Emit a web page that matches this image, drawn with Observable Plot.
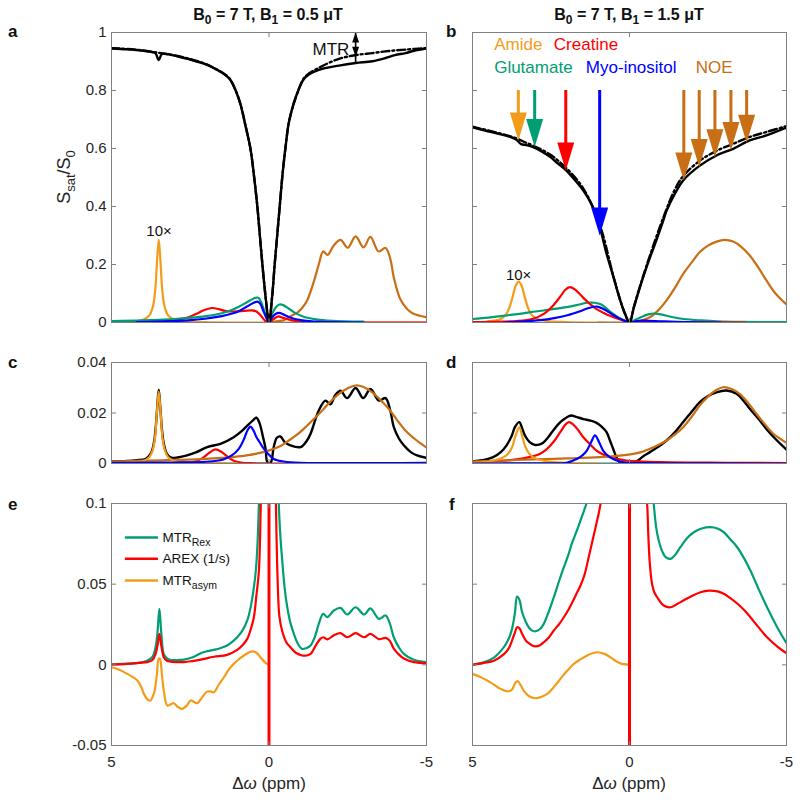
<!DOCTYPE html>
<html><head><meta charset="utf-8">
<script src="https://cdn.jsdelivr.net/npm/d3@7"></script>
<script src="https://cdn.jsdelivr.net/npm/@observablehq/plot@0.6"></script>
<style>
body{margin:0;background:#fff;}
#root{position:relative;width:800px;height:800px;overflow:hidden;background:#fff;}
#root svg{position:absolute;background:transparent;overflow:visible;max-width:none;}
</style></head><body><div id="root"></div>
<script>
// ---------------- DATA (ppm, value) ----------------
const aZ = [[5,0.945],[4.5,0.942],[4,0.937],[3.7,0.932],[3.6,0.928],[3.5,0.905],[3.4,0.926],[3.2,0.925],[3,0.92],[2.5,0.907],[2,0.89],[1.75,0.877],[1.5,0.862],[1.25,0.84],[1.06,0.8],[0.9,0.75],[0.75,0.68],[0.59,0.6],[0.47,0.5],[0.37,0.4],[0.29,0.3],[0.21,0.2],[0.1,0.08],[0,0],[-0.1,0.09],[-0.18,0.2],[-0.26,0.3],[-0.34,0.4],[-0.42,0.5],[-0.52,0.6],[-0.65,0.7],[-0.93,0.8],[-1.15,0.845],[-1.58,0.871],[-2.22,0.886],[-2.75,0.895],[-3.28,0.901],[-3.7,0.912],[-4.0,0.922],[-4.33,0.929],[-4.6,0.937],[-5,0.945]];
const aZref = [[5,0.946],[4.5,0.943],[4,0.938],[3.5,0.93],[3,0.921],[2.5,0.908],[2,0.891],[1.75,0.878],[1.5,0.863],[1.25,0.841],[1.06,0.801],[0.9,0.751],[0.75,0.681],[0.59,0.6],[0.47,0.5],[0.37,0.4],[0.29,0.3],[0.21,0.2],[0.1,0.08],[0,0],[-0.1,0.09],[-0.18,0.2],[-0.26,0.3],[-0.34,0.4],[-0.42,0.5],[-0.52,0.6],[-0.65,0.7],[-0.93,0.8],[-1.15,0.848],[-1.58,0.878],[-2.22,0.909],[-2.75,0.922],[-3.28,0.929],[-3.8,0.936],[-4.33,0.941],[-5,0.946]];
const aAmide = [[5,0.001],[4.5,0.0023],[4.25,0.004],[4,0.009],[3.8,0.024],[3.7,0.049],[3.65,0.075],[3.6,0.128],[3.55,0.219],[3.5,0.286],[3.45,0.219],[3.4,0.128],[3.35,0.075],[3.3,0.049],[3.2,0.024],[3,0.009],[2.75,0.004],[2.5,0.0023],[2,0.001],[1,0],[-5,0]];
const aCr = [[5,0],[4,0.002],[3.5,0.004],[3.08,0.007],[2.8,0.012],[2.56,0.018],[2.3,0.03],[2.05,0.043],[1.8,0.05],[1.6,0.046],[1.4,0.04],[1.12,0.038],[0.8,0.04],[0.55,0.042],[0.4,0.038],[0.27,0.025],[0.12,0.006],[0,0],[-0.12,0.01],[-0.3,0.021],[-0.45,0.016],[-0.7,0.008],[-1,0.004],[-1.5,0.001],[-2,0],[-5,0]];
const aGlu = [[5,0.005],[4,0.007],[3,0.012],[2.5,0.016],[2,0.022],[1.5,0.032],[1.2,0.042],[0.96,0.054],[0.7,0.07],[0.5,0.082],[0.4,0.086],[0.33,0.085],[0.25,0.07],[0.15,0.04],[0.05,0.01],[0,0],[-0.08,0.025],[-0.2,0.05],[-0.33,0.062],[-0.45,0.06],[-0.6,0.05],[-0.8,0.035],[-1.1,0.02],[-1.5,0.011],[-2,0.006],[-3,0.003]];
const aMyo = [[4.2,0.001],[3.5,0.003],[3,0.005],[2.56,0.0075],[2.03,0.013],[1.5,0.022],[1.2,0.03],[0.96,0.039],[0.7,0.055],[0.5,0.067],[0.37,0.072],[0.28,0.065],[0.18,0.04],[0.08,0.015],[0,0],[-0.1,0.018],[-0.22,0.03],[-0.32,0.033],[-0.45,0.028],[-0.65,0.018],[-1,0.008],[-1.5,0.003],[-2,0.001],[-3,0]];
const aNoe = [[0,0],[-0.3,0.005],[-0.47,0.008],[-0.74,0.025],[-0.89,0.033],[-1.05,0.05],[-1.21,0.076],[-1.42,0.14],[-1.58,0.2],[-1.72,0.245],[-1.86,0.233],[-2.05,0.265],[-2.27,0.285],[-2.5,0.258],[-2.75,0.297],[-3.0,0.259],[-3.22,0.295],[-3.48,0.245],[-3.7,0.257],[-3.85,0.22],[-3.96,0.156],[-4.17,0.08],[-4.4,0.045],[-4.59,0.03],[-5,0.018]];
const bZ = [[5,0.673],[4.6,0.662],[4.13,0.65],[3.8,0.64],[3.6,0.63],[3.45,0.615],[3.3,0.612],[3.07,0.605],[2.8,0.59],[2.54,0.572],[2.3,0.55],[2.01,0.524],[1.75,0.492],[1.47,0.455],[1.2,0.405],[0.95,0.33],[0.73,0.237],[0.52,0.16],[0.3,0.078],[0.15,0.032],[0,0],[-0.14,0.052],[-0.3,0.11],[-0.54,0.19],[-0.86,0.285],[-1.07,0.35],[-1.18,0.385],[-1.45,0.445],[-1.71,0.49],[-2.24,0.541],[-2.77,0.576],[-3.3,0.599],[-3.83,0.628],[-4.36,0.645],[-5,0.672]];
const bZref = [[5,0.675],[4.13,0.652],[3.6,0.635],[3.3,0.62],[3.07,0.61],[2.54,0.58],[2.01,0.532],[1.47,0.462],[0.95,0.338],[0.52,0.162],[0.3,0.079],[0.15,0.032],[0,0],[-0.14,0.054],[-0.3,0.113],[-0.54,0.195],[-1.07,0.36],[-1.45,0.46],[-1.71,0.505],[-2.24,0.558],[-2.77,0.592],[-3.3,0.616],[-3.83,0.64],[-4.36,0.657],[-5,0.677]];
const bAmide = [[4.5,0.004],[4.1,0.012],[3.93,0.028],[3.83,0.05],[3.73,0.085],[3.63,0.125],[3.53,0.141],[3.43,0.125],[3.33,0.085],[3.23,0.05],[3.13,0.028],[2.93,0.012],[2.53,0.004],[2,0.0015],[1,0],[-5,0]];
const bCr = [[5,0.001],[4.5,0.002],[4.02,0.003],[3.6,0.005],[3.28,0.008],[3.05,0.014],[2.86,0.022],[2.65,0.036],[2.43,0.059],[2.2,0.09],[2.05,0.112],[1.9,0.122],[1.75,0.115],[1.6,0.1],[1.47,0.085],[1.25,0.063],[1.05,0.046],[0.82,0.033],[0.62,0.023],[0.35,0.012],[0.1,0.004],[0,0],[-0.3,0.005],[-0.8,0.003],[-1.5,0.001],[-3.7,0]];
const bGlu = [[5,0.012],[4.5,0.017],[4.1,0.022],[3.5,0.03],[3.05,0.037],[2.5,0.045],[2,0.053],[1.6,0.062],[1.35,0.068],[1.1,0.068],[0.9,0.062],[0.7,0.045],[0.5,0.028],[0.3,0.014],[0.1,0.004],[0,0],[-0.2,0.01],[-0.4,0.02],[-0.6,0.028],[-0.77,0.031],[-1,0.028],[-1.35,0.019],[-1.73,0.012],[-2.3,0.007],[-2.8,0.004],[-3.5,0.002],[-5,0.001]];
const bMyo = [[4,0],[3.5,0.003],[2.83,0.008],[2.4,0.015],[1.98,0.025],[1.6,0.038],[1.3,0.05],[1.03,0.055],[0.8,0.045],[0.5,0.025],[0.25,0.01],[0,0],[-0.3,0.006],[-0.6,0.006],[-1,0.004],[-1.5,0.002],[-2.9,0]];
const bNoe = [[1,0],[0,0],[-0.3,0.004],[-0.65,0.018],[-0.9,0.04],[-1.18,0.076],[-1.45,0.12],[-1.71,0.168],[-2,0.21],[-2.24,0.243],[-2.5,0.265],[-2.77,0.279],[-3.04,0.285],[-3.3,0.279],[-3.55,0.262],[-3.83,0.231],[-4.1,0.19],[-4.36,0.145],[-4.65,0.1],[-5,0.062]];
const bArrowPpm = [3.54, 3.02, 2.03, 0.95, -1.73, -2.22, -2.72, -3.23, -3.73];
const bArrowTip = [0.628, 0.605, 0.524, 0.30, 0.49, 0.536, 0.57, 0.595, 0.62];
const bArrowKind = ["amide","glu","cr","myo","noe","noe","noe","noe","noe"];
const bArrowTop = 0.80;
const bLegendText = ["Amide","Creatine","Glutamate","Myo-inositol","NOE"];
const bLegendKind = ["amide","cr","glu","myo","noe"];
const bLegendX = [4.31, 2.41, 4.31, 1.39, -2.11];
const bLegendY = [0.941, 0.941, 0.861, 0.861, 0.861];
const aMtrPpm = -2.75, aMtrTop = 1.0, aMtrMid = 0.916, aMtrBottom = 0.895;
const tenXLabel = "10×";
const aTenX = [3.49, 0.30], bTenX = [3.53, 0.147];
const cBlack = [[5,0.0008],[4.5,0.001],[4.2,0.0013],[3.92,0.0018],[3.75,0.004],[3.65,0.0085],[3.6,0.0137],[3.55,0.022],[3.5,0.0292],[3.45,0.022],[3.4,0.0137],[3.35,0.0085],[3.25,0.004],[3.13,0.0024],[2.9,0.0024],[2.6,0.0032],[2.3,0.0045],[1.96,0.0065],[1.54,0.0078],[1.12,0.0104],[0.85,0.013],[0.69,0.015],[0.5,0.0172],[0.4,0.0181],[0.3,0.016],[0.2,0.011],[0.11,0.006],[0.05,0.0005],[-0.05,0.0003],[-0.15,0.0065],[-0.25,0.0102],[-0.36,0.0107],[-0.5,0.0085],[-0.68,0.0072],[-1,0.0065],[-1.2,0.009],[-1.32,0.0118],[-1.58,0.021],[-1.79,0.0249],[-1.95,0.0234],[-2.1,0.027],[-2.27,0.0288],[-2.48,0.0259],[-2.75,0.0299],[-2.99,0.0259],[-3.22,0.0295],[-3.49,0.0249],[-3.7,0.0259],[-3.85,0.021],[-3.96,0.0145],[-4.12,0.01],[-4.28,0.0072],[-4.5,0.0045],[-4.7,0.0032],[-5,0.0022]];
const cAmide = [[5,0.0003],[4.5,0.0005],[4,0.001],[3.8,0.0025],[3.7,0.005],[3.62,0.01],[3.56,0.02],[3.5,0.0285],[3.44,0.02],[3.38,0.01],[3.3,0.005],[3.2,0.0025],[3,0.001],[2.5,0.0005],[2,0.0003],[1,0]];
const cCr = [[3,0],[2.5,0.0004],[2.3,0.0009],[2.1,0.0022],[1.9,0.0042],[1.7,0.0056],[1.5,0.0045],[1.3,0.0025],[1.1,0.001],[0.9,0.0004],[0.5,0.0001],[0,0],[-1,0]];
const cGlu = [[3,0],[0,0]];
const cMyo = [[5,0.0003],[3,0.0004],[2,0.0007],[1.6,0.0012],[1.45,0.0016],[1.17,0.0033],[0.96,0.0058],[0.8,0.0095],[0.69,0.013],[0.59,0.0146],[0.49,0.013],[0.4,0.0105],[0.3,0.0085],[0.2,0.0065],[0.04,0.004],[-0.15,0.0018],[-0.47,0.0008],[-1,0.0003],[-5,0.0003]];
const cNoe = [[5,0.0008],[4,0.0011],[3,0.0014],[2,0.0018],[1.5,0.0022],[0.96,0.0028],[0.43,0.0038],[0,0.0052],[-0.35,0.0068],[-0.63,0.0091],[-0.9,0.0115],[-1.16,0.0144],[-1.43,0.0177],[-1.69,0.021],[-1.95,0.0245],[-2.22,0.0276],[-2.5,0.0298],[-2.75,0.0309],[-3.0,0.0303],[-3.28,0.0282],[-3.55,0.025],[-3.8,0.0217],[-4.05,0.0175],[-4.33,0.0131],[-4.65,0.0095],[-5,0.0063]];
const dBlack = [[5,0.0008],[4.6,0.0015],[4.34,0.0025],[4.1,0.0045],[3.92,0.0071],[3.75,0.011],[3.65,0.0144],[3.51,0.0164],[3.42,0.014],[3.33,0.0111],[3.18,0.0085],[3.02,0.0074],[2.88,0.0075],[2.75,0.0082],[2.6,0.0102],[2.43,0.0131],[2.25,0.0158],[2.11,0.0173],[1.95,0.0186],[1.85,0.019],[1.7,0.0185],[1.47,0.0176],[1.25,0.017],[1.05,0.0161],[0.88,0.0145],[0.73,0.0124],[0.62,0.009],[0.52,0.0058],[0.42,0.0025],[0.33,0.0007],[0.2,0],[-0.1,0],[-0.17,0.0004],[-0.3,0.0015],[-0.45,0.003],[-0.65,0.0045],[-0.9,0.0065],[-1.18,0.0091],[-1.45,0.0125],[-1.71,0.0164],[-1.98,0.0205],[-2.24,0.0243],[-2.5,0.0267],[-2.77,0.0282],[-3.09,0.0289],[-3.41,0.0276],[-3.62,0.025],[-3.83,0.0217],[-4.1,0.0178],[-4.36,0.0137],[-4.65,0.0097],[-5,0.0055]];
const dAmide = [[5,0.0003],[4.6,0.0006],[4.34,0.0012],[4.1,0.002],[3.92,0.0032],[3.8,0.005],[3.72,0.0071],[3.63,0.011],[3.51,0.0144],[3.42,0.011],[3.33,0.0071],[3.2,0.004],[3.07,0.0025],[2.8,0.0013],[2.5,0.0007],[2,0.0003],[1,0]];
const dCr = [[5,0.0006],[4.5,0.0008],[4,0.0011],[3.6,0.0016],[3.2,0.0025],[2.86,0.0038],[2.65,0.0055],[2.43,0.0084],[2.2,0.0125],[2.05,0.0153],[1.93,0.0164],[1.8,0.0155],[1.65,0.0135],[1.47,0.0104],[1.25,0.0075],[1.05,0.0051],[0.82,0.0035],[0.62,0.0025],[0.3,0.0016],[0.1,0.0012],[-1,0.0006],[-3,0.0003],[-5,0.0002]];
const dGlu = [[4,0],[-1,0]];
const dMyo = [[5,0],[3,0.0001],[2,0.0003],[1.68,0.0018],[1.5,0.0032],[1.36,0.0051],[1.22,0.0085],[1.1,0.0111],[0.97,0.0085],[0.84,0.0051],[0.68,0.003],[0.52,0.0018],[0.3,0.0008],[0,0.0003],[-1,0.0001],[-5,0]];
const dNoe = [[5,0.0008],[4,0.0012],[3.07,0.0016],[2,0.002],[0.95,0.0025],[0.4,0.003],[-0.12,0.0038],[-0.4,0.0046],[-0.65,0.0058],[-0.9,0.0072],[-1.18,0.0091],[-1.45,0.0115],[-1.71,0.0144],[-1.98,0.0185],[-2.24,0.023],[-2.5,0.0265],[-2.75,0.029],[-2.98,0.0302],[-3.25,0.0295],[-3.51,0.0276],[-3.78,0.024],[-4.04,0.0197],[-4.3,0.0157],[-4.58,0.0118],[-5,0.0082]];
const eRexL = [[5,0.0002],[4.6,0.0006],[4.29,0.0009],[4.05,0.0015],[3.87,0.0025],[3.7,0.005],[3.6,0.011],[3.54,0.02],[3.48,0.0347],[3.42,0.02],[3.34,0.0066],[3.24,0.004],[3.13,0.003],[2.9,0.003],[2.7,0.0032],[2.4,0.0048],[2.17,0.0072],[1.95,0.0085],[1.75,0.0093],[1.55,0.0103],[1.33,0.012],[1.15,0.0145],[1.01,0.0171],[0.85,0.021],[0.69,0.0275],[0.58,0.036],[0.48,0.048],[0.42,0.058],[0.37,0.073],[0.32,0.1],[0.28,0.13]];
const eRexR = [[-0.28,0.13],[-0.31,0.1],[-0.36,0.08],[-0.42,0.0646],[-0.5,0.047],[-0.58,0.0357],[-0.68,0.026],[-0.79,0.0192],[-0.92,0.013],[-1.05,0.0099],[-1.18,0.0103],[-1.32,0.012],[-1.45,0.017],[-1.58,0.0254],[-1.72,0.0316],[-1.85,0.0296],[-2.06,0.0337],[-2.27,0.0353],[-2.48,0.0312],[-2.75,0.0357],[-3.02,0.0312],[-3.22,0.035],[-3.49,0.0285],[-3.7,0.0306],[-3.83,0.026],[-3.96,0.0171],[-4.12,0.011],[-4.28,0.0068],[-4.6,0.0031],[-5,0.0017]];
const eArexL = [[5,0.0002],[4.5,0.0006],[4.1,0.0012],[3.87,0.0017],[3.7,0.003],[3.6,0.0068],[3.54,0.012],[3.48,0.0192],[3.42,0.012],[3.34,0.0047],[3.24,0.0025],[3.13,0.002],[2.7,0.0017],[2.4,0.0025],[2.17,0.0032],[1.75,0.005],[1.33,0.0062],[1.01,0.0093],[0.85,0.012],[0.69,0.0161],[0.55,0.024],[0.48,0.0295],[0.4,0.043],[0.32,0.0585],[0.26,0.1],[0.22,0.13]];
const eArexR = [[-0.2,0.13],[-0.22,0.1],[-0.27,0.055],[-0.33,0.03],[-0.42,0.0208],[-0.55,0.014],[-0.68,0.0109],[-0.85,0.0075],[-1.05,0.0058],[-1.2,0.0058],[-1.32,0.0068],[-1.5,0.0125],[-1.63,0.0161],[-1.72,0.0171],[-1.85,0.0158],[-2.06,0.0183],[-2.27,0.0196],[-2.48,0.0171],[-2.75,0.0196],[-3.02,0.0171],[-3.22,0.0192],[-3.49,0.0159],[-3.7,0.0167],[-3.83,0.015],[-3.96,0.0101],[-4.12,0.0065],[-4.28,0.0039],[-4.6,0.0017],[-5,0.0011]];
const eAsym = [[5,-0.0015],[4.75,-0.003],[4.5,-0.0056],[4.18,-0.0097],[4.05,-0.014],[3.97,-0.018],[3.85,-0.0215],[3.76,-0.0221],[3.68,-0.019],[3.63,-0.016],[3.56,-0.006],[3.5,0.004],[3.46,0.0035],[3.4,-0.006],[3.34,-0.016],[3.23,-0.0252],[3.12,-0.0245],[3.02,-0.0238],[2.9,-0.026],[2.76,-0.0273],[2.6,-0.025],[2.49,-0.0221],[2.38,-0.023],[2.28,-0.0238],[2.12,-0.02],[1.97,-0.0166],[1.85,-0.0165],[1.75,-0.017],[1.6,-0.0125],[1.43,-0.0077],[1.28,-0.003],[1.12,0.0006],[0.95,0.0035],[0.8,0.0058],[0.65,0.0075],[0.53,0.0084],[0.4,0.0075],[0.27,0.0047],[0.15,0.002],[0.06,0.0006],[0,0]];
const fRexL = [[5,0],[4.64,0.0015],[4.32,0.0045],[4.0,0.011],[3.85,0.016],[3.74,0.0223],[3.65,0.032],[3.58,0.0423],[3.5,0.04],[3.42,0.0326],[3.3,0.0265],[3.21,0.0233],[3.1,0.0212],[2.99,0.0208],[2.85,0.0222],[2.73,0.0254],[2.57,0.033],[2.41,0.0419],[2.25,0.0515],[2.09,0.0605],[1.95,0.068],[1.82,0.076],[1.69,0.0825],[1.56,0.0895],[1.45,0.0955],[1.37,0.1],[1.3,0.105]];
const fRexR = [[-0.74,0.105],[-0.77,0.1],[-0.85,0.085],[-0.93,0.0771],[-1.04,0.0705],[-1.15,0.0667],[-1.31,0.0657],[-1.45,0.068],[-1.62,0.0729],[-1.83,0.0785],[-2.05,0.0822],[-2.3,0.0845],[-2.58,0.0853],[-2.8,0.0845],[-3.0,0.0822],[-3.2,0.078],[-3.43,0.0729],[-3.65,0.066],[-3.85,0.0585],[-4.1,0.0475],[-4.38,0.0357],[-4.7,0.0235],[-5,0.0134]];
const fArexL = [[5,0],[4.64,0.0012],[4.32,0.0025],[4.0,0.0066],[3.85,0.01],[3.74,0.0151],[3.65,0.02],[3.58,0.0233],[3.5,0.0225],[3.42,0.0192],[3.3,0.015],[3.21,0.0134],[3.1,0.012],[2.99,0.0115],[2.85,0.0122],[2.73,0.014],[2.57,0.017],[2.41,0.0213],[2.25,0.025],[2.09,0.0295],[1.95,0.034],[1.82,0.0388],[1.69,0.044],[1.56,0.0492],[1.43,0.056],[1.3,0.0667],[1.19,0.076],[1.08,0.0853],[0.98,0.094],[0.92,0.1],[0.88,0.105]];
const fArexR = [[-0.52,0.105],[-0.56,0.1],[-0.6,0.08],[-0.65,0.062],[-0.72,0.05],[-0.8,0.0445],[-0.88,0.0419],[-1.09,0.0368],[-1.31,0.0357],[-1.5,0.0375],[-1.73,0.04],[-2,0.0428],[-2.26,0.045],[-2.53,0.046],[-2.8,0.0455],[-3.0,0.0441],[-3.2,0.0415],[-3.43,0.038],[-3.65,0.034],[-3.85,0.0295],[-4.1,0.0235],[-4.38,0.0171],[-4.7,0.0115],[-5,0.0072]];
const fAsym = [[5,-0.0056],[4.75,-0.0075],[4.53,-0.0097],[4.3,-0.0125],[4.11,-0.0149],[3.9,-0.0164],[3.75,-0.0155],[3.63,-0.011],[3.56,-0.0101],[3.47,-0.0125],[3.37,-0.016],[3.2,-0.0195],[2.99,-0.0207],[2.8,-0.0198],[2.62,-0.018],[2.4,-0.0135],[2.2,-0.0087],[2.0,-0.004],[1.77,0.0006],[1.55,0.0035],[1.35,0.0058],[1.18,0.0072],[1.01,0.0078],[0.8,0.0068],[0.61,0.0047],[0.45,0.0025],[0.29,0.0009],[0,0]];
const zeroLine = [0];
const eLegendText = ["MTR_Rex","AREX (1/s)","MTR_asym"];
const eLegendKind = ["glu","cr","amide"];
const eLegendY = [0.079, 0.0657, 0.0523];
const eLegendLine = [4.56, 3.51];
const eLegendTextX = 3.38;
const xDomain = [5, -5];
const xTicks = [5, 0, -5];
const xMidTick = [0];
const yTicksAB = [0, 0.2, 0.4, 0.6, 0.8, 1];
const yTicksCD = [0, 0.02, 0.04];
const yTicksEF = [-0.05, 0, 0.05, 0.1];

// ---------------- STYLE ----------------
const FONT = '"Liberation Sans", Arial, Helvetica, sans-serif';
const COL = {amide:"#F39C1A", cr:"#FF0000", glu:"#009E73", myo:"#0000FF", noe:"#C86E14", black:"#000000"};
const AXC = "#808080", TXT = "#262626";
const root = document.getElementById("root");
const ns = "http://www.w3.org/2000/svg";
const ML = 70, MR = 14, MT = 14, MB = 40;

const L = (data, color, opts = {}) => Plot.line(data, {x: d => d[0], y: d => d[1], stroke: color, strokeWidth: 2.2, curve: "catmull-rom", clip: true, ...opts});

const headDown = {draw(c){ c.moveTo(0,0); c.lineTo(-8.5,-28); c.lineTo(8.5,-28); c.closePath(); }};
const smallDown = {draw(c){ c.moveTo(0,0); c.lineTo(-3.5,-10); c.lineTo(3.5,-10); c.closePath(); }};
const smallUp = {draw(c){ c.moveTo(0,0); c.lineTo(-3.5,10); c.lineTo(3.5,10); c.closePath(); }};
const tickRightward = {draw(c){ c.moveTo(0,0); c.lineTo(4.5,0); }};
const tickLeftward = {draw(c){ c.moveTo(0,0); c.lineTo(-4.5,0); }};
const tickDownward = {draw(c){ c.moveTo(0,0); c.lineTo(0,4.5); }};
const tickUpward = {draw(c){ c.moveTo(0,0); c.lineTo(0,-4.5); }};

function applySubs(svg) {
  svg.querySelectorAll("text").forEach(t => {
    const s = t.textContent;
    if (!s.includes("_") || t.children.length) return;
    const [main, sub] = s.split("_");
    t.textContent = "";
    const a = document.createElementNS(ns, "tspan"); a.textContent = main; t.appendChild(a);
    const b = document.createElementNS(ns, "tspan"); b.textContent = sub;
    b.setAttribute("dy", "0.38em"); b.setAttribute("font-size", "0.78em"); t.appendChild(b);
  });
}

function panel(frame, yDomain, yTicks, showY, showX, marks) {
  const [x0, y0, x1, y1] = frame;
  const w = x1 - x0, h = y1 - y0;
  const all = [
    ...marks,
    Plot.frame({stroke: AXC, strokeWidth: 1}),
    Plot.dot(yTicks, {x: () => xDomain[0], y: d => d, symbol: tickRightward, stroke: AXC, fill: "none", strokeWidth: 1}),
    Plot.dot(yTicks, {x: () => xDomain[1], y: d => d, symbol: tickLeftward, stroke: AXC, fill: "none", strokeWidth: 1}),
    Plot.dot(xMidTick, {x: d => d, y: () => yDomain[1], symbol: tickDownward, stroke: AXC, fill: "none", strokeWidth: 1}),
    Plot.dot(xMidTick, {x: d => d, y: () => yDomain[0], symbol: tickUpward, stroke: AXC, fill: "none", strokeWidth: 1})
  ];
  if (showY) all.push(Plot.text(yTicks, {x: () => xDomain[0], y: d => d, text: d => String(d), textAnchor: "end", dx: -5, fontSize: 15, fill: TXT}));
  if (showX) all.push(Plot.text(xTicks, {x: d => d, y: () => yDomain[0], text: d => String(d), lineAnchor: "top", dy: 11, fontSize: 15, fill: TXT}));
  const p = Plot.plot({
    width: w + ML + MR, height: h + MT + MB,
    marginLeft: ML, marginRight: MR, marginTop: MT, marginBottom: MB,
    x: {domain: xDomain, axis: null},
    y: {domain: yDomain, axis: null},
    color: {type: "identity"},
    style: {background: "transparent", overflow: "visible", fontFamily: FONT, fontSize: "15px", color: TXT},
    marks: all
  });
  p.style.left = (x0 - ML) + "px";
  p.style.top = (y0 - MT) + "px";
  p.style.background = "transparent";
  applySubs(p);
  root.appendChild(p);
}

const idx = n => d3.range(n);

panel([111, 32, 426, 322], [0, 1], yTicksAB, true, false, [
  L(aAmide, COL.amide), L(aNoe, COL.noe), L(aCr, COL.cr), L(aGlu, COL.glu), L(aMyo, COL.myo),
  L(aZ, COL.black, {strokeWidth: 2.4}),
  L(aZref, COL.black, {strokeWidth: 2.4, strokeDasharray: "8,3,2,3"}),
  Plot.ruleX([aMtrPpm], {x: d => d, y1: () => aMtrBottom, y2: () => aMtrTop, stroke: "#000", strokeWidth: 1.6}),
  Plot.dot([aMtrPpm], {x: d => d, y: () => aMtrTop, symbol: smallUp, fill: "#000", stroke: "none"}),
  Plot.dot([aMtrPpm], {x: d => d, y: () => aMtrMid, symbol: smallDown, fill: "#000", stroke: "none"}),
  Plot.text(["MTR"], {x: () => aMtrPpm + 0.2, y: () => 0.923, text: d => d, textAnchor: "end", lineAnchor: "bottom", fontSize: 17, fill: "#111"}),
  Plot.text([tenXLabel], {x: () => aTenX[0], y: () => aTenX[1], text: d => d, lineAnchor: "bottom", fontSize: 15, fill: "#111"})
]);

panel([472, 32, 786, 322], [0, 1], yTicksAB, false, false, [
  L(bAmide, COL.amide), L(bNoe, COL.noe), L(bGlu, COL.glu), L(bCr, COL.cr), L(bMyo, COL.myo),
  L(bZ, COL.black, {strokeWidth: 2.4}),
  L(bZref, COL.black, {strokeWidth: 2.4, strokeDasharray: "8,3,2,3"}),
  Plot.ruleX(idx(bArrowPpm.length), {x: i => bArrowPpm[i], y1: () => bArrowTop, y2: i => bArrowTip[i], insetBottom: 20, stroke: i => COL[bArrowKind[i]], strokeWidth: 3}),
  Plot.dot(idx(bArrowPpm.length), {x: i => bArrowPpm[i], y: i => bArrowTip[i], symbol: headDown, fill: i => COL[bArrowKind[i]], stroke: "none"}),
  Plot.text(idx(bLegendText.length), {x: i => bLegendX[i], y: i => bLegendY[i], text: i => bLegendText[i], fill: i => COL[bLegendKind[i]], textAnchor: "start", lineAnchor: "bottom", fontSize: 17}),
  Plot.text([tenXLabel], {x: () => bTenX[0], y: () => bTenX[1], text: d => d, lineAnchor: "bottom", fontSize: 15, fill: "#111"})
]);

panel([111, 362, 426, 463], [0, 0.04], yTicksCD, true, false, [
  L(cBlack, COL.black, {strokeWidth: 2.4}),
  L(cGlu, COL.glu), L(cCr, COL.cr), L(cNoe, COL.noe), L(cAmide, COL.amide), L(cMyo, COL.myo)
]);

panel([472, 362, 786, 463], [0, 0.04], yTicksCD, false, false, [
  L(dBlack, COL.black, {strokeWidth: 2.4}),
  L(dGlu, COL.glu), L(dCr, COL.cr), L(dNoe, COL.noe), L(dAmide, COL.amide), L(dMyo, COL.myo)
]);

panel([111, 503, 426, 745], [-0.05, 0.1], yTicksEF, true, true, [
  L(eAsym, COL.amide), L(eRexL, COL.glu), L(eRexR, COL.glu), L(eArexL, COL.cr), L(eArexR, COL.cr),
  Plot.ruleX(zeroLine, {x: d => d, y1: () => -0.05, y2: () => 0.1, stroke: COL.cr, strokeWidth: 3}),
  Plot.ruleY(idx(3), {y: i => eLegendY[i], x1: () => eLegendLine[0], x2: () => eLegendLine[1], stroke: i => COL[eLegendKind[i]], strokeWidth: 2.5}),
  Plot.text(idx(3), {x: () => eLegendTextX, y: i => eLegendY[i], text: i => eLegendText[i], textAnchor: "start", fontSize: 13.5, fill: "#111"})
]);

panel([472, 503, 786, 745], [-0.05, 0.1], yTicksEF, false, true, [
  L(fAsym, COL.amide), L(fRexL, COL.glu), L(fRexR, COL.glu), L(fArexL, COL.cr), L(fArexR, COL.cr),
  Plot.ruleX(zeroLine, {x: d => d, y1: () => -0.05, y2: () => 0.1, stroke: COL.cr, strokeWidth: 3})
]);

const ov = d3.select(root).append("svg").attr("width", 800).attr("height", 800)
  .style("left", "0px").style("top", "0px").style("pointer-events", "none")
  .attr("font-family", FONT).attr("fill", "#111");

function richText(g, x, y, parts, size, subSize, shift, attrs = {}) {
  const t = g.append("text").attr("x", x).attr("y", y).attr("font-size", size);
  for (const k in attrs) t.attr(k, attrs[k]);
  let cur = 0;
  parts.forEach(([s, sub, italic]) => {
    const ts = t.append("tspan").text(s);
    const target = sub ? shift : 0;
    if (target !== cur) { ts.attr("dy", target - cur); cur = target; }
    if (sub) ts.attr("font-size", subSize);
    if (italic) ts.attr("font-style", "italic");
  });
  return t;
}
const titles = [[268, "0.5"], [629, "1.5"]];
titles.forEach(([x, b1]) => richText(ov, x, 20, [["B",0],["0",1],[" = 7 T, B",0],["1",1],[` = ${b1} μT`,0]], 16, 12, 4, {"text-anchor": "middle", "font-weight": "bold"}));
const letters = [["a", 8, 37], ["b", 446, 37], ["c", 8, 368], ["d", 446, 368], ["e", 8, 510], ["f", 449, 510]];
letters.forEach(([s, x, y]) => ov.append("text").attr("x", x).attr("y", y).attr("font-size", 17).attr("font-weight", "bold").text(s));
const gy = ov.append("g").attr("transform", "translate(70,177) rotate(-90)");
richText(gy, 0, 0, [["S",0],["sat",1],["/S",0],["0",1]], 18, 13, 5, {"text-anchor": "middle", fill: TXT});
[269, 629].forEach(x => richText(ov, x, 789, [["Δ",0],["ω",0,1],[" (ppm)",0]], 17, 17, 0, {"text-anchor": "middle", fill: TXT}));
</script></body></html>
